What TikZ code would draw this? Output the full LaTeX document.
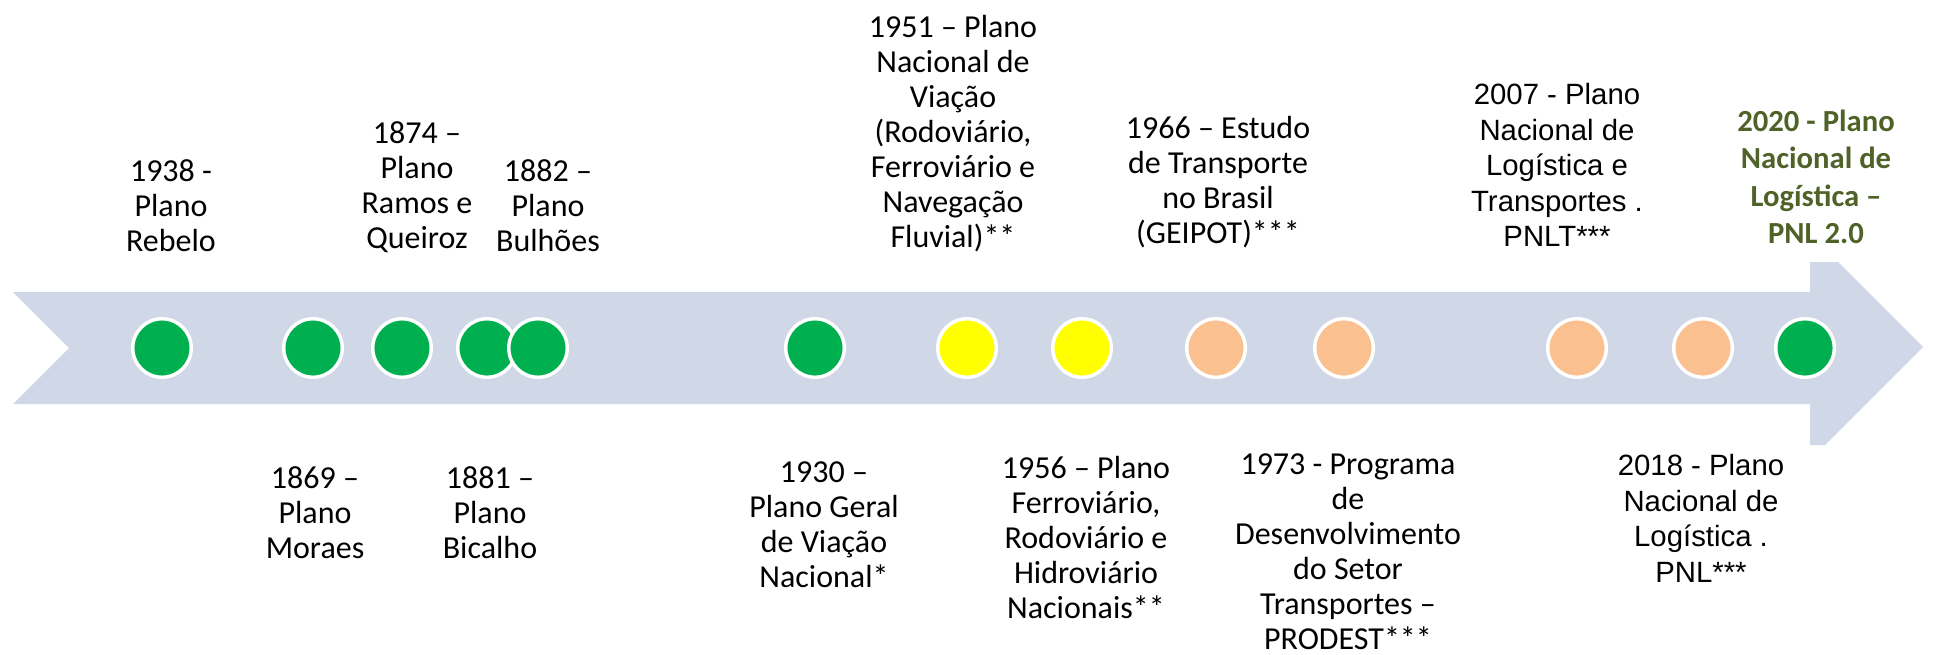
\documentclass[tikz,border=0pt]{standalone}
\usepackage{fontspec}
\setmainfont{Carlito}
\newfontfamily\arialfont{Liberation Sans}
\definecolor{band}{RGB}{208,216,232}
\definecolor{dgreen}{RGB}{0,176,80}
\definecolor{dyellow}{RGB}{255,255,0}
\definecolor{dorange}{RGB}{250,192,144}
\definecolor{olive}{RGB}{79,98,40}
\begin{document}
\begin{tikzpicture}[x=0.75pt,y=-0.75pt,
  lbl/.style={align=center,inner sep=0pt,font=\fontsize{24}{26.25}\selectfont},
  albl/.style={align=center,inner sep=0pt,font=\arialfont\fontsize{22}{26.6}\selectfont},
  blbl/.style={align=center,inner sep=0pt,text=olive,font=\bfseries\fontsize{23}{28}\selectfont},
  dot/.style={circle,draw=white,line width=2.6pt,minimum size=43.9pt,inner sep=0pt}]
\useasboundingbox (0,0) rectangle (1934,654);
% timeline band
\fill[band] (13,292) -- (1810,292) -- (1810,262) -- (1838,262) -- (1923,347)
  -- (1825,445) -- (1810,445) -- (1810,404) -- (13,404) -- (69,348) -- cycle;
% dots
\node[dot,fill=dgreen]  (d1)  at (162,348) {};
\node[dot,fill=dgreen]  (d2)  at (313,348) {};
\node[dot,fill=dgreen]  (d3)  at (402,348) {};
\node[dot,fill=dgreen]  (d4)  at (487,348) {};
\node[dot,fill=dgreen]  (d5)  at (538,348) {};
\node[dot,fill=dgreen]  (d6)  at (815,348) {};
\node[dot,fill=dyellow] (d7)  at (967,348) {};
\node[dot,fill=dyellow] (d8)  at (1082,348) {};
\node[dot,fill=dorange] (d9)  at (1216,348) {};
\node[dot,fill=dorange] (d10) at (1344,348) {};
\node[dot,fill=dorange] (d11) at (1577,348) {};
\node[dot,fill=dorange] (d12) at (1703,348) {};
\node[dot,fill=dgreen]  (d13) at (1805,348) {};
% top labels
\node[lbl] (t1938) at (171,205.5) {1938 -\\Plano\\Rebelo};
\node[lbl] (t1874) at (417,187.5) {1874 –\\Plano\\Ramos e\\Queiroz};
\node[lbl] (t1882) at (548,205.5) {1882 –\\Plano\\Bulhões};
\node[lbl] (t1951) at (953,134) {1951 – Plano\\Nacional de\\Viação\\(Rodoviário,\\Ferroviário e\\Navegação\\Fluvial)**};
\node[lbl] (t1966) at (1218,182.5) {1966 – Estudo\\de Transporte\\no Brasil\\(GEIPOT)***};
\node[albl] (t2007) at (1557,165) {2007 - Plano\\Nacional de\\Logística e\\Transportes .\\PNLT***};
\node[blbl] (t2020) at (1816,177) {2020 - Plano\\Nacional de\\Logística –\\PNL 2.0};
% bottom labels
\node[lbl] (b1869) at (315,512.5) {1869 –\\Plano\\Moraes};
\node[lbl] (b1881) at (490,512.5) {1881 –\\Plano\\Bicalho};
\node[lbl] (b1930) at (824,525) {1930 –\\Plano Geral\\de Viação\\Nacional*};
\node[lbl] (b1956) at (1086,537) {1956 – Plano\\Ferroviário,\\Rodoviário e\\Hidroviário\\Nacionais**};
\node[lbl] (b1973) at (1348,552) {1973 - Programa\\de\\Desenvolvimento\\do Setor\\Transportes –\\PRODEST***};
\node[albl] (b2018) at (1701,518.5) {2018 - Plano\\Nacional de\\Logística .\\PNL***};
\end{tikzpicture}
\end{document}
